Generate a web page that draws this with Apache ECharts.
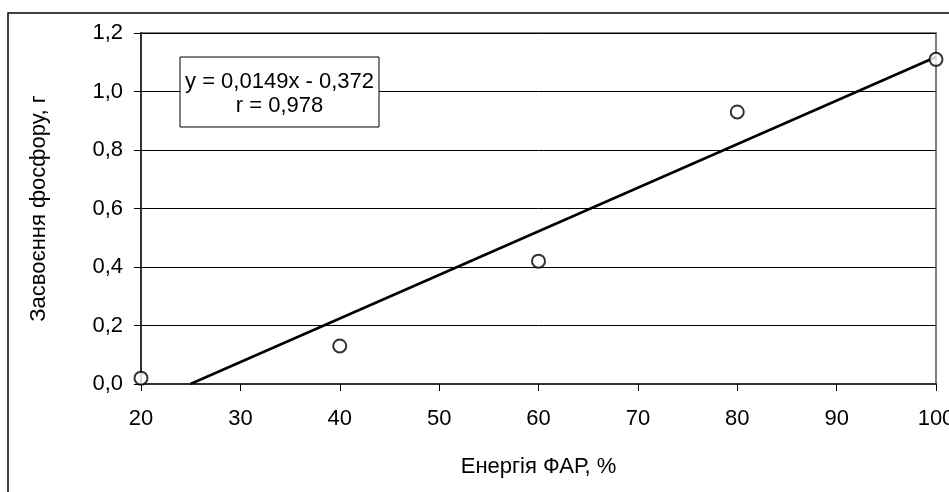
<!DOCTYPE html>
<html>
<head>
<meta charset="utf-8">
<script src="https://cdn.jsdelivr.net/npm/echarts@6/dist/echarts.min.js"></script>
<style>
  html, body { margin: 0; padding: 0; background: #fff; }
  #chart { width: 949px; height: 492px; }
</style>
</head>
<body>
<div id="chart"></div>
<script>
// energy PAR, % and phosphorus uptake, g
var energy = [20, 40, 60, 80, 100];
var uptake = [0.02, 0.13, 0.42, 0.93, 1.11];
// trend line ends (y = 0,0149x - 0,372, clipped at 0)
var trendX = [24.97, 100];
var trendY = [0, 1.118];
var eqLines = ["y = 0,0149x - 0,372", "r = 0,978"];

var font = "Liberation Sans, Arial, sans-serif";
var chart = echarts.init(document.getElementById("chart"));

var option = {
  backgroundColor: "#fff",
  animation: false,
  grid: {
    left: 141, right: 13, top: 33, bottom: 108,
    containLabel: false, outerBoundsMode: "none",
    show: true, borderColor: "#808080", borderWidth: 2
  },
  xAxis: {
    type: "value",
    min: 20,
    max: 100,
    interval: 10,
    name: "Енергія ФАР, %",
    nameLocation: "middle",
    nameGap: 72,
    nameTextStyle: { color: "#000", fontSize: 22, fontFamily: font },
    axisLine: { onZero: false, lineStyle: { color: "#333", width: 2 } },
    axisTick: { length: 7, lineStyle: { color: "#000", width: 1 } },
    axisLabel: { color: "#000", fontSize: 22, fontFamily: font, margin: 24, hideOverlap: false,
      formatter: function (v) { return String(v); } },
    splitLine: { show: false }
  },
  yAxis: {
    type: "value",
    min: 0,
    max: 1.2,
    interval: 0.2,
    name: "Засвоєння фосфору, г",
    nameLocation: "middle",
    nameGap: 91,
    nameTextStyle: { color: "#000", fontSize: 22, fontFamily: font },
    axisLine: { show: true, lineStyle: { color: "#333", width: 2 } },
    axisTick: { show: true, length: 7, lineStyle: { color: "#000", width: 1 } },
    axisLabel: { color: "#000", fontSize: 22, fontFamily: font, margin: 18,
      formatter: function (v) { return v.toFixed(1).replace(".", ","); } },
    splitLine: { show: true, lineStyle: { color: "#000", width: 1 } }
  },
  series: [
    {
      type: "line",
      data: trendX.map(function (x, i) { return [x, trendY[i]]; }),
      showSymbol: false,
      lineStyle: { color: "#000", width: 2.5 },
      z: 3
    },
    {
      type: "scatter",
      data: energy.map(function (x, i) { return [x, uptake[i]]; }),
      symbol: "circle",
      symbolSize: 13,
      itemStyle: { color: "#fff", borderColor: "#000", borderWidth: 2 },
      z: 4
    }
  ],
  graphic: [
    {
      type: "rect",
      shape: { x: 8, y: 13, width: 1000, height: 600 },
      style: { fill: "none", stroke: "#000", lineWidth: 1.5 },
      silent: true
    },
    {
      type: "rect",
      shape: { x: 180, y: 57, width: 199, height: 70 },
      style: { fill: "#fff", stroke: "#000", lineWidth: 1 },
      z: 10
    },
    {
      type: "text",
      x: 279.5, y: 82,
      style: { text: eqLines[0], fill: "#000", font: "22px " + font, align: "center", verticalAlign: "middle" },
      z: 11
    },
    {
      type: "text",
      x: 279.5, y: 106,
      style: { text: eqLines[1], fill: "#000", font: "22px " + font, align: "center", verticalAlign: "middle" },
      z: 11
    }
  ]
};
chart.setOption(option);
</script>
</body>
</html>
